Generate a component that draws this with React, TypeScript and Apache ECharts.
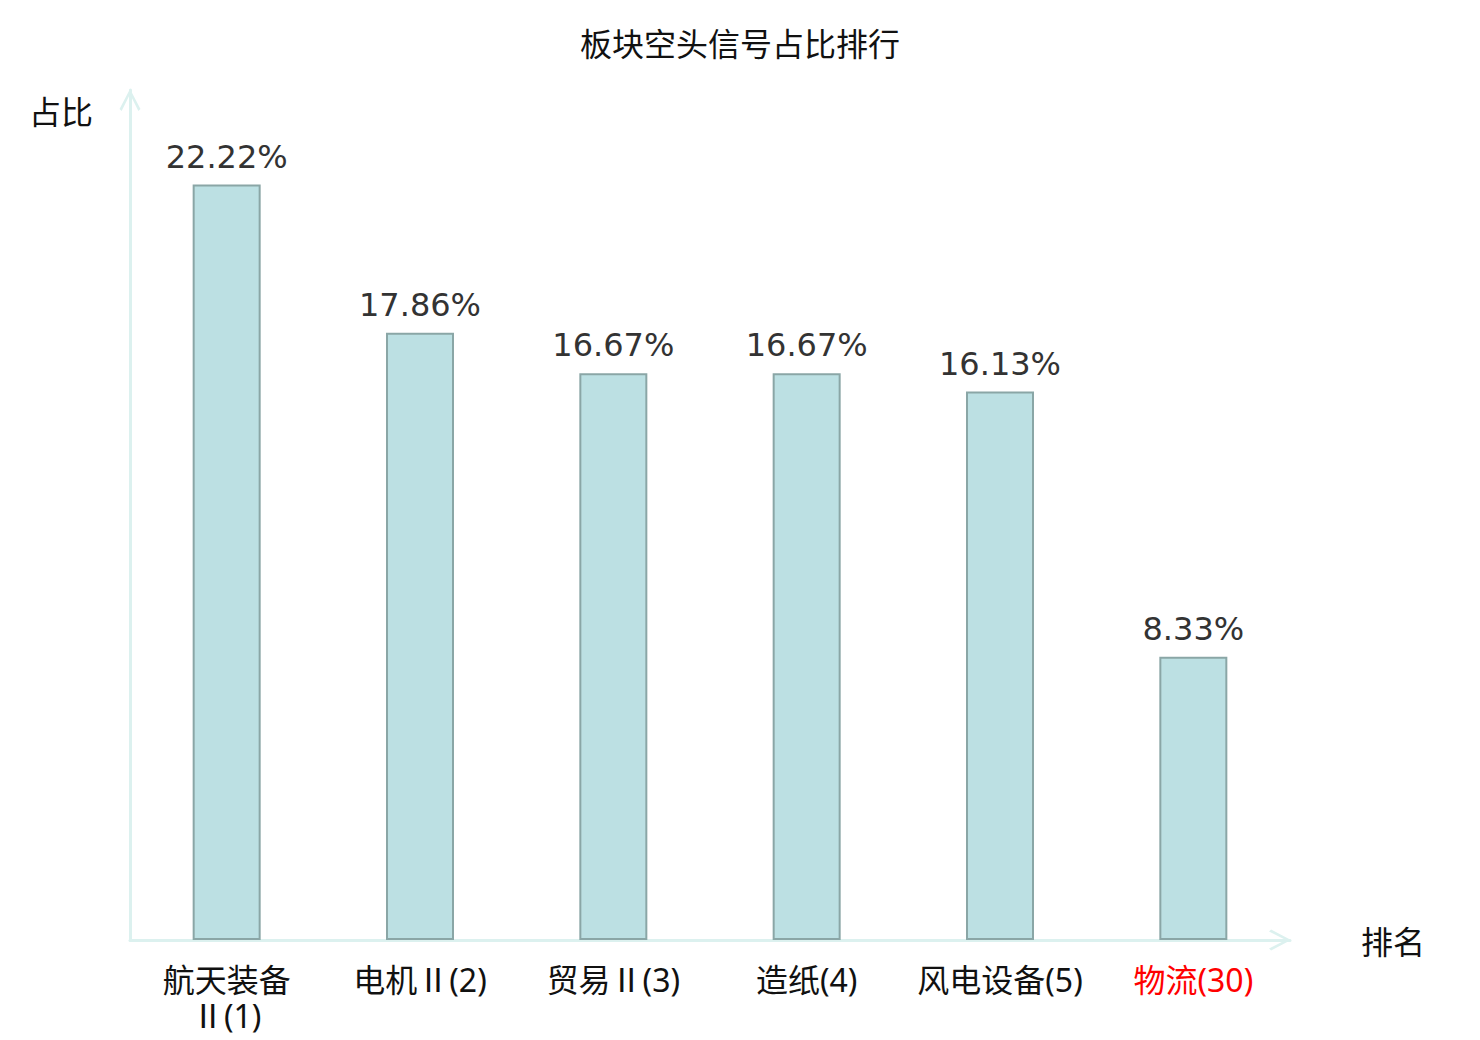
import React, { useEffect, useRef } from "react";
import * as echarts from "echarts";

const names = ["航天装备Ⅱ", "电机Ⅱ", "贸易Ⅱ", "造纸", "风电设备", "物流"];
const ranks = [1, 2, 3, 4, 5, 30];
const values = [22.22, 17.86, 16.67, 16.67, 16.13, 8.33];
const highlightIndex = 5;
const titleText = "板块空头信号占比排行";
const yName = "占比";
const xName = "排名";

const categories = names.map((n, i) => `${n}(${ranks[i]})`);

const AXIS_COLOR = "#dcf1ef";
const CHEVRON = "path://M10,0 L20,19 L18,21 L10,5 L2,21 L0,19 Z";
const CJK = "Noto Sans CJK SC";
const LABEL_FONT = "'Noto Sans', 'Noto Sans CJK SC'";

export default function App() {
  const ref = useRef<HTMLDivElement>(null);
  useEffect(() => {
    if (!ref.current) return;
    const chart = echarts.init(ref.current, undefined, { renderer: "svg" });
    chart.setOption({
      animation: false,
      backgroundColor: "#ffffff",
      title: {
        text: titleText,
        left: "center",
        top: 21,
        textStyle: {
          fontFamily: CJK,
          fontSize: 32,
          fontWeight: "normal",
          color: "#111",
        },
      },
      grid: { left: 130, right: 190, top: 90, bottom: 100, containLabel: false },
      xAxis: {
        type: "category",
        data: categories,
        name: xName,
        nameLocation: "end",
        nameGap: 71,
        nameTextStyle: {
          fontFamily: CJK,
          fontSize: 32,
          color: "#111",
          verticalAlign: "middle",
          align: "left",
        },
        axisLine: {
          show: true,
          symbol: ["none", CHEVRON],
          symbolSize: [21, 22],
          symbolOffset: [0, -10],
          lineStyle: { color: AXIS_COLOR, width: 3 },
        },
        axisTick: { show: false },
        axisLabel: {
          interval: 0,
          margin: 21,
          fontFamily: LABEL_FONT,
          fontSize: 32,
          lineHeight: 36,
          color: (_v: string, i: number) => (i === highlightIndex ? "#ff0000" : "#111"),
          formatter: (v: string) => {
            const i = categories.indexOf(v);
            const n = names[i];
            if (n && n.length > 4) {
              return n.slice(0, 4) + "\n" + n.slice(4) + `(${ranks[i]})`;
            }
            return v;
          },
        },
        splitLine: { show: false },
      },
      yAxis: {
        type: "value",
        min: 0,
        max: 25,
        name: yName,
        nameLocation: "end",
        nameGap: -20,
        nameTextStyle: {
          fontFamily: CJK,
          fontSize: 32,
          color: "#111",
          align: "right",
          verticalAlign: "middle",
          padding: [0, 37, 0, 0],
        },
        axisLine: {
          show: true,
          symbol: ["none", CHEVRON],
          symbolSize: [21, 22],
          symbolOffset: [0, -10],
          lineStyle: { color: AXIS_COLOR, width: 3 },
        },
        axisTick: { show: false },
        axisLabel: { show: false },
        splitLine: { show: false },
      },
      series: [
        {
          type: "bar",
          data: values,
          barWidth: 68,
          itemStyle: {
            color: "#bce0e3",
            borderColor: "#8aa6a6",
            borderWidth: 2,
          },
          label: {
            show: true,
            position: "top",
            distance: 12,
            formatter: (p: any) => `${p.value.toFixed(2)}%`,
            fontFamily: "DejaVu Sans",
            fontSize: 32,
            color: "#333",
          },
        },
      ],
    });
    return () => chart.dispose();
  }, []);
  return (
    <div
      ref={ref}
      style={{ position: "fixed", left: 0, top: 0, width: 1480, height: 1040 }}
    />
  );
}
